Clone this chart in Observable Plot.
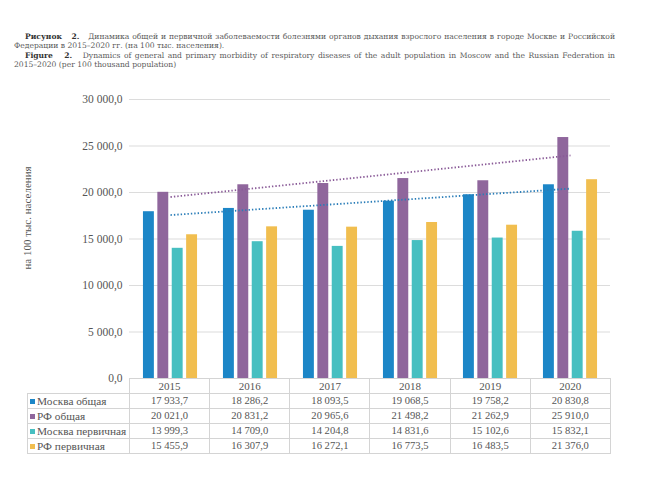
<!DOCTYPE html>
<html>
<head>
<meta charset="utf-8">
<script src="https://cdn.jsdelivr.net/npm/d3@7"></script>
<script src="https://cdn.jsdelivr.net/npm/@observablehq/plot@0.6"></script>
<style>
  html, body { margin: 0; padding: 0; background: #fff; }
  #root { position: relative; width: 650px; height: 482px; overflow: hidden; font-family: "Liberation Serif", "DejaVu Serif", serif; color: #555; }
  #root svg { position: absolute; left: 0; top: 0; }
  .cap { position: absolute; left: 14px; width: 601px; font-family: "DejaVu Serif", serif; font-size: 7.6px; line-height: 9px; color: #5a5a5a; white-space: nowrap; }
  .cap.j { text-align: justify; text-align-last: justify; white-space: normal; }
  .cap b { color: #333; }
  .ind { padding-left: 11px; box-sizing: border-box; }
  #ylab { position: absolute; left: 27px; top: 218px; transform: translate(-50%, -50%) rotate(-90deg); font-size: 11px; white-space: nowrap; color: #555; }
  table.dt { position: absolute; border-collapse: collapse; table-layout: fixed; font-size: 11px; color: #555; }
  table.dt td { border: 1px solid #d4d4d4; padding: 0; text-align: center; height: 14px; line-height: 14px; white-space: nowrap; overflow: hidden; }
  table.dt td.lab { text-align: left; padding-left: 2px; font-size: 11.3px; }
  table.dt td.blank { border: none; }
  table.dt td.num { font-size: 10.6px; }
  .sw { display: inline-block; width: 5px; height: 5px; margin-right: 2px; vertical-align: 1px; }
</style>
</head>
<body>
<div id="root"></div>
<script>
// ---- data ----
const years = ["2015", "2016", "2017", "2018", "2019", "2020"];
const seriesNames = ["Москва общая", "РФ общая", "Москва первичная", "РФ первичная"];
const moscowGeneral = [17933.7, 18286.2, 18093.5, 19068.5, 19758.2, 20830.8];
const rfGeneral     = [20021.0, 20831.2, 20965.6, 21498.2, 21262.9, 25910.0];
const moscowPrimary = [13999.3, 14709.0, 14204.8, 14831.6, 15102.6, 15832.1];
const rfPrimary     = [15455.9, 16307.9, 16272.1, 16773.5, 16483.5, 21376.0];
const yTicks = [0, 5000, 10000, 15000, 20000, 25000, 30000];
const yLabel = "на 100 тыс. населения";
const seriesValues = [moscowGeneral, rfGeneral, moscowPrimary, rfPrimary];
const colors = ["#1c86c7", "#8f669c", "#47bfc1", "#f1be4f"];
const trendColors = ["#2a7db8", "#8a5b98"];

// ---- layout ----
const W = 650, H = 482;
const mL = 129, mR = 40, mT = 99, mB = 104;

const root = document.getElementById("root");

// caption
const capLines = [
  {top: 32, cls: "cap j ind", html: "<b>Рисунок&nbsp;&nbsp; 2.</b>&nbsp;&nbsp; Динамика общей и первичной заболеваемости болезнями органов дыхания взрослого населения в городе Москве и Российской"},
  {top: 41, cls: "cap", html: "Федерации в 2015–2020 гг. (на 100 тыс. населения)."},
  {top: 50.5, cls: "cap j ind", html: "<b>Figure&nbsp;&nbsp; 2.</b>&nbsp;&nbsp; Dynamics of general and primary morbidity of respiratory diseases of the adult population in Moscow and the Russian Federation in"},
  {top: 59.5, cls: "cap", html: "2015–2020 (per 100 thousand population)"}
];
for (const l of capLines) {
  const d = document.createElement("div");
  d.className = l.cls; d.style.top = l.top + "px"; d.innerHTML = l.html;
  root.appendChild(d);
}

const ru = d3.formatLocale({decimal: ",", thousands: "\u00a0", grouping: [3]});
const fmt = ru.format(",.1f");

// long-format table for the marks
const data = [];
seriesNames.forEach((s, k) => years.forEach((y, i) => data.push({series: s, k, year: y, value: seriesValues[k][i]})));

// bar positions within each year band
const outer = d3.scaleBand(years, [mL, W - mR]).padding(0);
const bw = outer.bandwidth();
const inner = d3.scaleBand(seriesNames, [0, bw]).paddingInner(0.23).paddingOuter(0.9);

// linear trends (least squares over year index) for the two "общая" series
function trend(vals) {
  const n = vals.length, xs = d3.range(n);
  const mx = d3.mean(xs), my = d3.mean(vals);
  const b = d3.sum(xs, (x, i) => (x - mx) * (vals[i] - my)) / d3.sum(xs, x => (x - mx) ** 2);
  return xs.map(x => ({year: years[x], value: my + b * (x - mx)}));
}
const trendMG = trend(moscowGeneral);
const trendRG = trend(rfGeneral);

const marks = [
  Plot.ruleY(yTicks, {stroke: "#dcdcdc", strokeWidth: 1.2}),
  ...seriesNames.map((s, k) => Plot.barY(data.filter(d => d.k === k), {
    x: "year", y: "value", fill: colors[k],
    insetLeft: inner(s), insetRight: bw - inner(s) - inner.bandwidth()
  })),
  Plot.line(trendRG, {x: "year", y: "value", stroke: trendColors[1], strokeWidth: 1.8, strokeDasharray: "1.4,2", strokeLinecap: "butt"}),
  Plot.line(trendMG, {x: "year", y: "value", stroke: trendColors[0], strokeWidth: 1.8, strokeDasharray: "1.4,2", strokeLinecap: "butt"}),
  Plot.ruleY([0], {stroke: "#cfcfcf", strokeWidth: 1.2})
];

const plot = Plot.plot({
  width: W, height: H,
  marginLeft: mL, marginRight: mR, marginTop: mT, marginBottom: mB,
  style: {fontFamily: "'Liberation Serif', 'DejaVu Serif', serif", fontSize: "11.5px", color: "#555", background: "transparent"},
  x: {type: "band", domain: years, padding: 0, axis: null},
  y: {domain: [0, 30000], ticks: yTicks, tickFormat: fmt, tickSize: 0, tickPadding: 7, label: null},
  marks
});
root.appendChild(plot);

// y label
const yl = document.createElement("div");
yl.id = "ylab"; yl.textContent = yLabel;
root.appendChild(yl);

// data table under the chart
const tbl = document.createElement("table");
tbl.className = "dt";
const labW = mL - 27;
tbl.style.left = "27px";
tbl.style.top = (H - mB) + "px";
const cg = document.createElement("colgroup");
[labW, ...years.map(() => bw)].forEach(w => { const c = document.createElement("col"); c.style.width = w + "px"; cg.appendChild(c); });
tbl.appendChild(cg);
tbl.style.width = (labW + bw * years.length) + "px";
const hr = tbl.insertRow();
const hc = hr.insertCell(); hc.className = "blank";
years.forEach(y => { const c = hr.insertCell(); c.textContent = y; });
seriesNames.forEach((s, k) => {
  const r = tbl.insertRow();
  const c0 = r.insertCell(); c0.className = "lab";
  c0.innerHTML = `<span class="sw" style="background:${colors[k]}"></span>${s}`;
  seriesValues[k].forEach(v => { const c = r.insertCell(); c.className = "num"; c.textContent = fmt(v); });
});
root.appendChild(tbl);
</script>
</body>
</html>
